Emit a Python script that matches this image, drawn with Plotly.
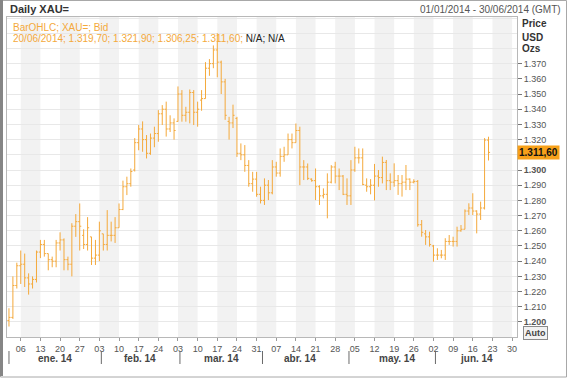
import plotly.graph_objects as go
import pandas as pd

# ---------------- data ----------------
dates = pd.bdate_range("2014-01-01", "2014-06-20")

opens = [1201, 1203, 1224, 1237, 1238, 1229, 1225, 1228, 1246, 1251,
         1245, 1241, 1240, 1252, 1254, 1241, 1238, 1263, 1266, 1257,
         1251, 1256, 1242, 1244, 1258, 1251, 1257, 1257, 1262, 1274,
         1289, 1291, 1300, 1318, 1327, 1320, 1311, 1321, 1324, 1337,
         1340, 1327, 1331, 1332, 1350, 1336, 1338, 1351, 1338, 1346,
         1347, 1367, 1370, 1379, 1371, 1358, 1332, 1331, 1334, 1311,
         1310, 1303, 1291, 1294, 1284, 1280, 1290, 1285, 1302, 1298,
         1309, 1310, 1320, 1318, 1326, 1302, 1302, 1294, 1293, 1289,
         1283, 1284, 1292, 1302, 1296, 1296, 1284, 1283, 1300, 1308,
         1308, 1290, 1289, 1290, 1296, 1295, 1305, 1293, 1292, 1293,
         1291, 1292, 1294, 1292, 1292.5, 1264, 1258, 1256, 1250, 1244,
         1244, 1244, 1253, 1253, 1253, 1260, 1261, 1273, 1275, 1273,
         1271, 1275, 1319.7]

highs = [1209, 1230, 1239, 1247, 1245, 1232, 1230, 1247, 1254, 1254,
         1245, 1243, 1254, 1259, 1255, 1243, 1265, 1271, 1278, 1261,
         1269, 1256, 1254, 1266, 1258, 1273.6, 1266, 1269, 1278, 1293,
         1295.6, 1301, 1321, 1329.6, 1332, 1323, 1324, 1328.5, 1339.4, 1342.7,
         1345, 1336, 1334, 1355, 1352.6, 1341.6, 1353, 1352.6, 1345, 1352.6,
         1371, 1373, 1382, 1390, 1372, 1360, 1335, 1343, 1335, 1317.5,
         1316.4, 1306.5, 1298.8, 1298.8, 1289, 1294.5, 1293.4, 1306.5, 1305.4, 1314.2,
         1315.3, 1324, 1324, 1330.6, 1328.5, 1306.5, 1304.3, 1294.5, 1301, 1290,
         1287.9, 1297.8, 1303.2, 1305.4, 1301, 1296.7, 1294.5, 1306.5, 1315.3, 1314.2,
         1314.2, 1294.5, 1294, 1304, 1300, 1308.8, 1306.6, 1297.8, 1304.4, 1296.7,
         1296.7, 1303.3, 1294.5, 1293.9, 1293.4, 1267.1, 1260.5, 1259.4, 1250.7, 1248.5,
         1247.4, 1255.1, 1257.2, 1256.1, 1262.7, 1263.8, 1274.1, 1278.1, 1284.7, 1273.5,
         1279.2, 1321, 1321.9]

lows = [1197, 1202, 1222, 1225, 1223, 1218, 1222, 1226, 1242, 1243,
        1234, 1236, 1236, 1247, 1234, 1234, 1230, 1256, 1247, 1248,
        1247, 1237.5, 1237.5, 1240, 1247, 1247, 1253, 1252, 1262, 1273.6,
        1283.5, 1289, 1299, 1313, 1312, 1307.6, 1310, 1315, 1318.6, 1329.6,
        1322, 1325, 1320, 1331.8, 1331.8, 1331.8, 1330.7, 1329.6, 1328.5, 1339,
        1347, 1362, 1367, 1361, 1350, 1333, 1320, 1327.6, 1308.6, 1306.5,
        1298.8, 1289, 1285.7, 1282.4, 1278, 1277, 1280.2, 1284, 1295.6, 1295.6,
        1305.4, 1310, 1314.2, 1318, 1290, 1293.4, 1293.4, 1292.3, 1280.2, 1277,
        1281.3, 1268.2, 1291.2, 1291.2, 1286.8, 1283.5, 1277, 1277, 1298.8, 1304.3,
        1290, 1285.7, 1284, 1280, 1289, 1291.2, 1286.8, 1286.8, 1289, 1283.6,
        1282.5, 1286.8, 1286.8, 1291.2, 1262.7, 1256.1, 1250.7, 1249.6, 1239.7, 1240.8,
        1241.9, 1240.8, 1250.7, 1249.6, 1249.6, 1259.4, 1261, 1270.4, 1270.4, 1258.3,
        1267.1, 1274, 1306.25]

closes = [1203, 1224, 1237, 1238, 1229, 1225, 1228, 1246, 1251, 1245,
          1241, 1240, 1252, 1254, 1241, 1238, 1263, 1266, 1263, 1251,
          1262, 1242, 1244, 1260, 1251, 1257, 1257, 1262, 1274, 1289,
          1291, 1299, 1318, 1327, 1320, 1311, 1321, 1324, 1337, 1340,
          1327, 1331, 1326, 1350, 1336, 1338, 1351, 1338, 1340, 1347,
          1367, 1370, 1379, 1371, 1358, 1336, 1331, 1336, 1311, 1310,
          1303, 1291, 1294, 1284, 1280, 1290, 1285, 1302, 1298, 1309,
          1310, 1320, 1318, 1326, 1302, 1302, 1294.5, 1293, 1289, 1283,
          1284, 1292, 1302, 1296, 1296, 1284, 1283, 1300, 1308, 1308,
          1290.5, 1289, 1290, 1296, 1295, 1305, 1293, 1292, 1293, 1291,
          1292, 1294, 1292, 1292.5, 1264, 1259, 1256, 1251, 1244, 1244,
          1244, 1253, 1253, 1253, 1260, 1261, 1273, 1275, 1273, 1271,
          1275, 1319.7, 1311.6]

y_tick_values = [1200, 1210, 1220, 1230, 1240, 1250, 1260, 1270, 1280,
                 1290, 1300, 1310, 1320, 1330, 1340, 1350, 1360, 1370]
# 1.310 sits behind the last-price box in the reference, so it is left blank
y_tick_labels = ["<b>1.200</b>", "1.210", "1.220", "1.230", "1.240", "1.250",
                 "1.260", "1.270", "1.280", "1.290", "<b>1.300</b>", "",
                 "1.320", "1.330", "1.340", "1.350", "1.360", "1.370"]

x_tick_dates = ["2014-01-06", "2014-01-13", "2014-01-20", "2014-01-27",
                "2014-02-03", "2014-02-10", "2014-02-17", "2014-02-24",
                "2014-03-03", "2014-03-10", "2014-03-17", "2014-03-24", "2014-03-31",
                "2014-04-07", "2014-04-14", "2014-04-21", "2014-04-28",
                "2014-05-05", "2014-05-12", "2014-05-19", "2014-05-26",
                "2014-06-02", "2014-06-09", "2014-06-16", "2014-06-23", "2014-06-30"]
x_tick_labels = ["06", "13", "20", "27", "03", "10", "17", "24", "03", "10", "17",
                 "24", "31", "07", "14", "21", "28", "05", "12", "19", "26", "02",
                 "09", "16", "23", "30"]

month_labels = ["ene. 14", "feb. 14", "mar. 14", "abr. 14", "may. 14", "jun. 14"]
month_label_dates = ["2014-01-16 16:00", "2014-02-17 08:00", "2014-03-18",
                     "2014-04-15", "2014-05-19 16:00", "2014-06-17"]
month_start_dates = ["2014-01-01", "2014-02-03 12:00", "2014-03-03 12:00",
                     "2014-04-01 12:00", "2014-05-01 12:00", "2014-06-02 12:00"]

shaded_weeks = ["2014-01-06", "2014-01-20", "2014-02-03", "2014-02-17", "2014-03-03",
                "2014-03-17", "2014-03-31", "2014-04-14", "2014-04-28", "2014-05-12",
                "2014-05-26", "2014-06-09", "2014-06-23"]

last_date = "20/06/2014"
last_price_label = "1.311,60"
legend_values = "1.319,70; 1.321,90; 1.306,25; 1.311,60"

# ---------------- geometry helpers ----------------
W, H = 568, 380
PL, PR, PT, PB = 7, 517, 17, 337   # plot box in pixels


def px(x):
    return (x - PL) / (PR - PL)


def py(y):
    return (PB - y) / (PB - PT)


ORANGE = "#f4a93b"
FONT = "Liberation Sans, Arial, sans-serif"

fig = go.Figure()
fig.add_trace(go.Ohlc(
    x=dates, open=opens, high=highs, low=lows, close=closes,
    increasing=dict(line=dict(color=ORANGE, width=1)),
    decreasing=dict(line=dict(color=ORANGE, width=1)),
    tickwidth=0.4, hoverinfo="skip", showlegend=False,
))

shapes = []
for d in shaded_weeks:
    d0 = pd.Timestamp(d)
    shapes.append(dict(type="rect", xref="x", yref="paper",
                       x0=d0, x1=d0 + pd.Timedelta(days=7), y0=0, y1=1,
                       fillcolor="#f2f2f2", line=dict(width=0), layer="below"))
for d in month_start_dates:
    shapes.append(dict(type="line", xref="x", yref="paper", x0=d, x1=d,
                       y0=py(351), y1=py(364), line=dict(color="#6a6a6a", width=1)))
# outer frame
shapes.append(dict(type="rect", xref="paper", yref="paper",
                   x0=px(0.5), x1=px(566.5), y0=py(377), y1=py(0.5),
                   line=dict(color="#a8a8a8", width=1)))
shapes.append(dict(type="line", xref="paper", yref="paper",
                   x0=px(1.5), x1=px(1.5), y0=py(376), y1=py(0),
                   line=dict(color="#858585", width=3)))

annotations = [
    dict(text="<b>Daily XAU=</b>", x=px(8), y=py(9), xref="paper", yref="paper",
         xanchor="left", yanchor="middle", showarrow=False,
         font=dict(family=FONT, size=11, color="#333333")),
    dict(text="01/01/2014 - 30/06/2014 (GMT)", x=px(563), y=py(9), xref="paper",
         yref="paper", xanchor="right", yanchor="middle", showarrow=False,
         font=dict(family=FONT, size=10, color="#555555")),
    dict(text="BarOHLC; XAU=; Bid", x=px(11), y=py(27), xref="paper", yref="paper",
         xanchor="left", yanchor="middle", showarrow=False,
         font=dict(family=FONT, size=10, color=ORANGE)),
    dict(text=f"{last_date}; {legend_values}; <span style='color:#222222'>N/A; N/A</span>",
         x=px(11), y=py(38), xref="paper", yref="paper",
         xanchor="left", yanchor="middle", showarrow=False,
         font=dict(family=FONT, size=10, color=ORANGE)),
    dict(text="<b>Price</b>", x=px(520), y=py(24), xref="paper", yref="paper",
         xanchor="left", yanchor="middle", showarrow=False,
         font=dict(family=FONT, size=10, color="#333333")),
    dict(text="<b>USD</b>", x=px(520), y=py(37), xref="paper", yref="paper",
         xanchor="left", yanchor="middle", showarrow=False,
         font=dict(family=FONT, size=10, color="#333333")),
    dict(text="<b>Ozs</b>", x=px(520), y=py(49), xref="paper", yref="paper",
         xanchor="left", yanchor="middle", showarrow=False,
         font=dict(family=FONT, size=10, color="#333333")),
    dict(text=f"<b>{last_price_label}</b>", x=px(517), y=closes[-1], xref="paper",
         yref="y", xanchor="left", yanchor="middle", showarrow=False,
         bgcolor="#f7a11a", borderpad=1,
         font=dict(family=FONT, size=10, color="#111111")),
    dict(text="<b>Auto</b>", x=px(535), y=py(333), xref="paper", yref="paper",
         xanchor="center", yanchor="middle", showarrow=False,
         bgcolor="#f2f2f2", bordercolor="#8a8a8a", borderwidth=1, borderpad=1,
         font=dict(family=FONT, size=9, color="#444444")),
]
for lab, d in zip(month_labels, month_label_dates):
    annotations.append(dict(text=f"<b>{lab}</b>", x=d, y=py(358), xref="x",
                            yref="paper", xanchor="center", yanchor="middle",
                            showarrow=False,
                            font=dict(family=FONT, size=10, color="#444444")))

fig.update_layout(
    width=W, height=H,
    margin=dict(l=PL, r=W - PR, t=PT, b=H - PB, pad=0),
    paper_bgcolor="white", plot_bgcolor="white",
    font=dict(family=FONT, size=9, color="#555555"),
    shapes=shapes, annotations=annotations,
    showlegend=False,
)
fig.update_xaxes(
    type="date", rangebreaks=[dict(bounds=["sat", "mon"])],
    range=["2013-12-31 12:00", "2014-07-01 06:00"],
    rangeslider=dict(visible=False),
    tickmode="array", tickvals=x_tick_dates, ticktext=x_tick_labels,
    ticks="outside", ticklen=3, tickcolor="#9a9a9a",
    tickfont=dict(family=FONT, size=9, color="#555555"),
    showgrid=False, showline=True, linecolor="#b8b8b8", mirror=True, zeroline=False,
)
fig.update_yaxes(
    side="right", range=[1190.1, 1400.7],
    tickmode="array", tickvals=y_tick_values, ticktext=y_tick_labels,
    ticks="outside", ticklen=4, tickcolor="#777777",
    tickfont=dict(family=FONT, size=9, color="#555555"),
    showgrid=True, gridcolor="#e8e8e8", gridwidth=1,
    minor=dict(tickmode="linear", tick0=1190, dtick=10, showgrid=True,
               gridcolor="#e8e8e8", ticks=""),
    showline=True, linecolor="#b8b8b8", mirror=True, zeroline=False,
)

fig.write_html(
    "out.html",
    config={"displayModeBar": False},
    post_script="document.body.style.margin='0px';document.body.style.overflow='hidden';",
)
